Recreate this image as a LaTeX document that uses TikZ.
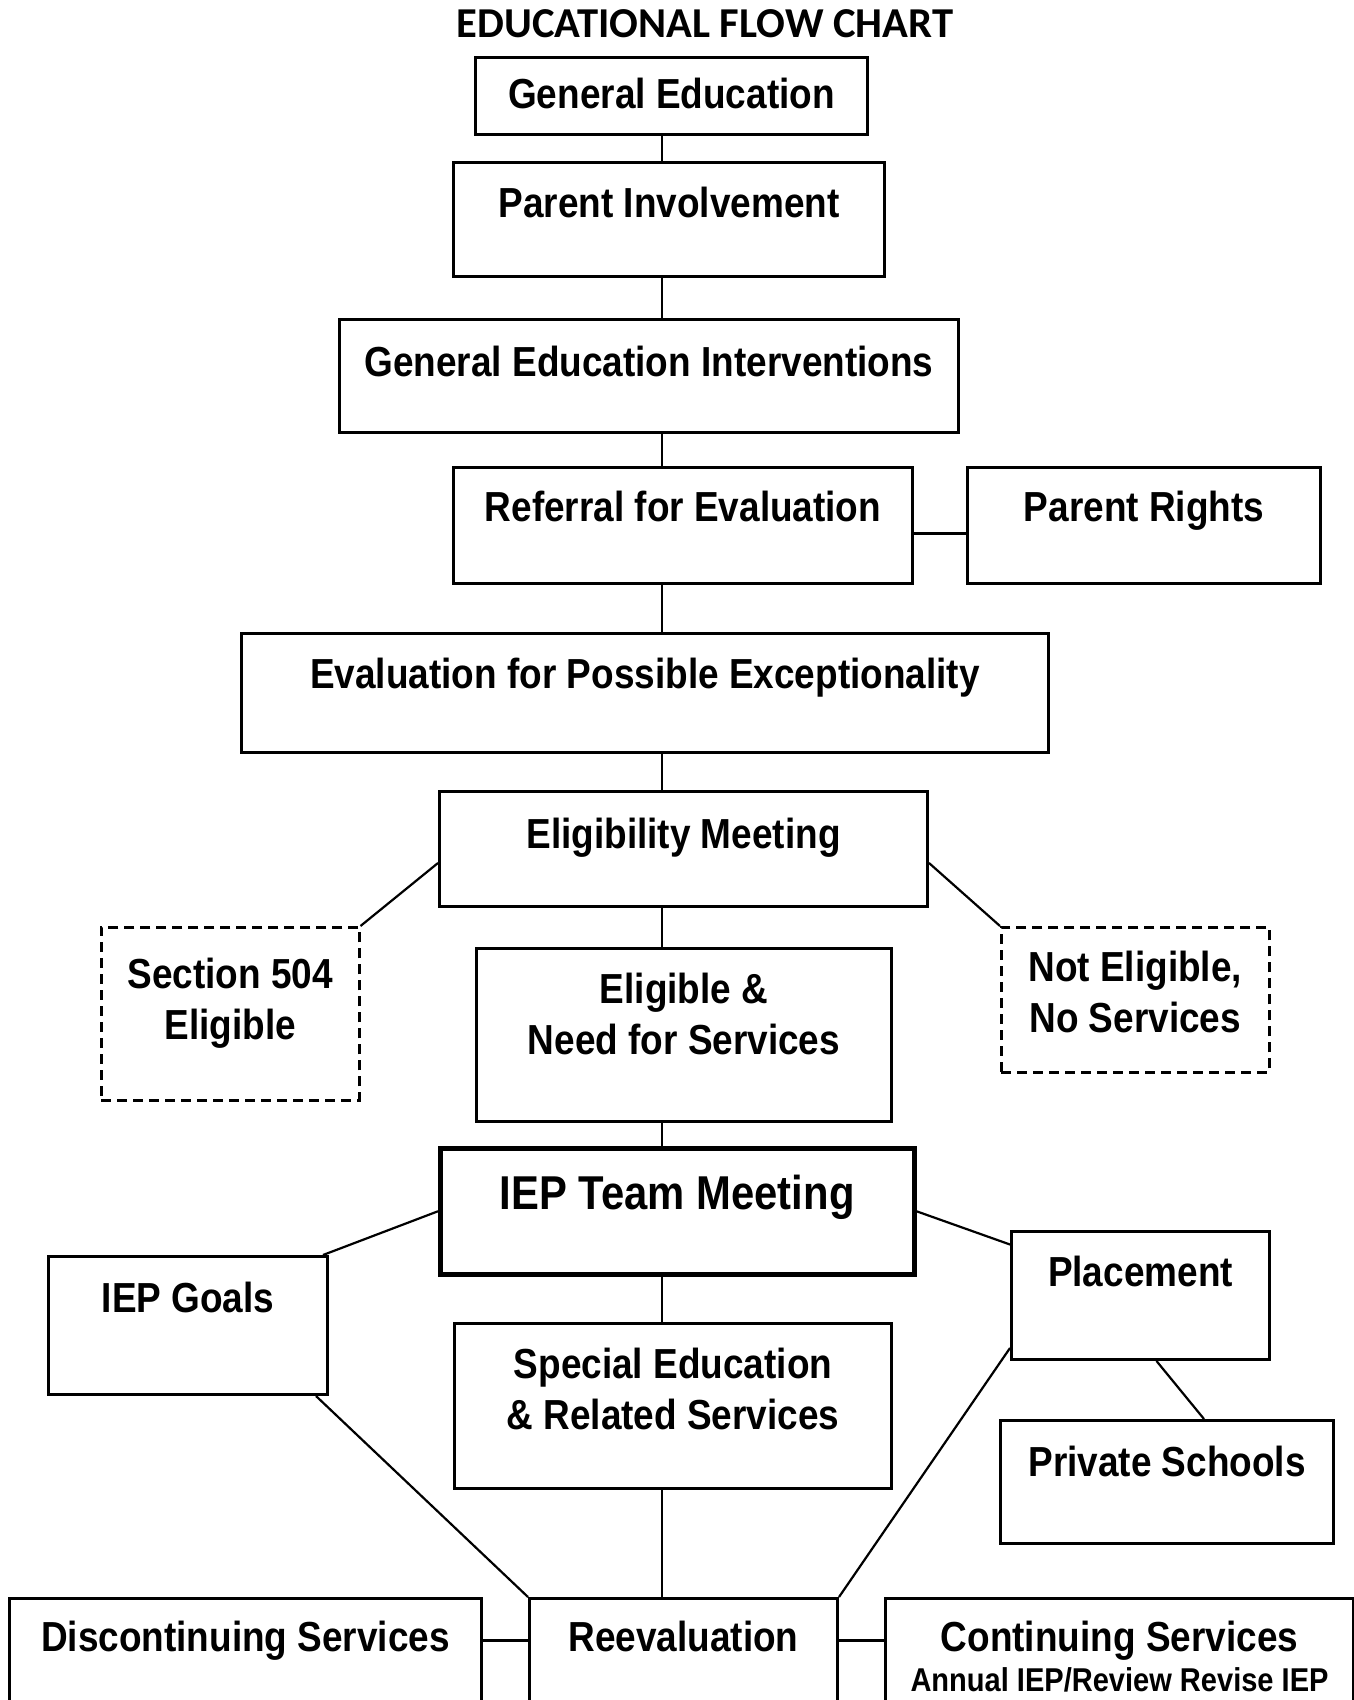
\documentclass[tikz,border=0pt]{standalone}
\usepackage{fontspec}
\setmainfont{Liberation Sans}[FakeStretch=0.88]
\newfontfamily\titlefont{Carlito}

\begin{document}
\begin{tikzpicture}[x=1pt, y=-1pt,
% Node styles
 box/.style={draw, line width=3pt, inner sep=0pt, anchor=north west, align=center,
 font=\bfseries\fontsize{42pt}{51pt}\selectfont},
 dims/.style n args={3}{minimum width=#1pt, text height=#2pt, text depth=#3pt},
 optional/.style={line width=2.5pt, dash pattern=on 10pt off 6pt},
 main/.style={line width=4.5pt, font=\bfseries\fontsize{47.5pt}{57pt}\selectfont},
% Edge styles
 edge/.style={draw, line width=2.2pt},
% Label styles
 heading/.style={font=\titlefont\bfseries\fontsize{42.6pt}{50pt}\selectfont,
 anchor=base, inner sep=0pt}
]
\useasboundingbox (0,0) rectangle (1354,1700);
\clip (0,0) rectangle (1354,1700);

\node[heading] (title) at (705,37) {EDUCATIONAL FLOW CHART};
\coordinate (spine) at (662,0);

\node[box, dims={392}{51}{26}] (gened) at (474,56) {General Education};
\node[box, dims={431}{55}{59}] (parent) at (452,161) {Parent Involvement};
\node[box, dims={619}{57}{56}] (gei) at (338,318) {General Education Interventions};
\node[box, dims={459}{54}{62}] (referral) at (452,466) {Referral for Evaluation};
\node[box, dims={353}{54}{62}] (rights) at (966,466) {Parent Rights};
\node[box, dims={807}{55}{64}] (evalpe) at (240,632) {Evaluation for Possible Exceptionality};
\node[box, dims={488}{57}{58}] (elig) at (438,790) {Eligibility Meeting};

\node[box, optional, dims={258}{112}{61}] (sec504) at (100,926) {Section 504\\Eligible};
\node[box, optional, dims={268}{105}{40}] (noelig) at (1000,926) {Not Eligible,\\No Services};
\node[box, dims={415}{106}{67}] (need) at (475,947) {Eligible \&\\Need for Services};

\node[box, main, dims={474}{61}{65}] (iep) at (438,1146) {IEP Team Meeting};
\node[box, dims={279}{56}{82}] (goals) at (47,1255) {IEP Goals};
\node[box, dims={258}{55}{73}] (placement) at (1010,1230) {Placement};
\node[box, dims={333}{56}{67}] (private) at (999,1419) {Private Schools};
\node[box, dims={437}{106}{59}] (special) at (453,1322) {Special Education\\\& Related Services};

\node[box, dims={308}{53}{53}] (reeval) at (528,1597) {Reevaluation};
\node[box, dims={472}{53}{53}] (discont) at (8,1597) {Discontinuing Services};
\node[box, dims={468}{93}{13}] (contin) at (884,1597)
 {Continuing Services\\[-11pt]{\fontsize{33pt}{40pt}\selectfont Annual IEP/Review Revise IEP}};

% main line
\draw[edge] (gened.south -| spine) -- (parent.north -| spine);
\draw[edge] (parent.south -| spine) -- (gei.north -| spine);
\draw[edge] (gei.south -| spine) -- (referral.north -| spine);
\draw[edge] (referral.south -| spine) -- (evalpe.north -| spine);
\draw[edge] (evalpe.south -| spine) -- (elig.north -| spine);
\draw[edge] (elig.south -| spine) -- (need.north -| spine);
\draw[edge] (need.south -| spine) -- (iep.north -| spine);
\draw[edge] (iep.south -| spine) -- (special.north -| spine);
\draw[edge] (special.south -| spine) -- (reeval.north -| spine);

% side branches
\draw[edge] ([yshift=-8pt]referral.east) -- ([yshift=-8pt]rights.west);
\draw[edge] ([yshift=-14pt]elig.west) -- (sec504.north east);
\draw[edge] ([yshift=-14pt]elig.east) -- (noelig.north west);
\draw[edge] (iep.west) -- ([xshift=-6pt]goals.north east);
\draw[edge] (iep.east) -- ([yshift=51pt]placement.west);
\draw[edge] ([xshift=16pt]placement.south) -- ([xshift=37pt]private.north);
\draw[edge] ([xshift=-13pt]goals.south east) -- (reeval.north west);
\draw[edge] ([yshift=13pt]placement.south west) -- (reeval.north east);
\draw[edge] ([yshift=11pt]reeval.west -| discont.east) -- ([yshift=11pt]reeval.west);
\draw[edge] ([yshift=11pt]reeval.east) -- ([yshift=11pt]reeval.east -| contin.west);

\end{tikzpicture}
\end{document}
